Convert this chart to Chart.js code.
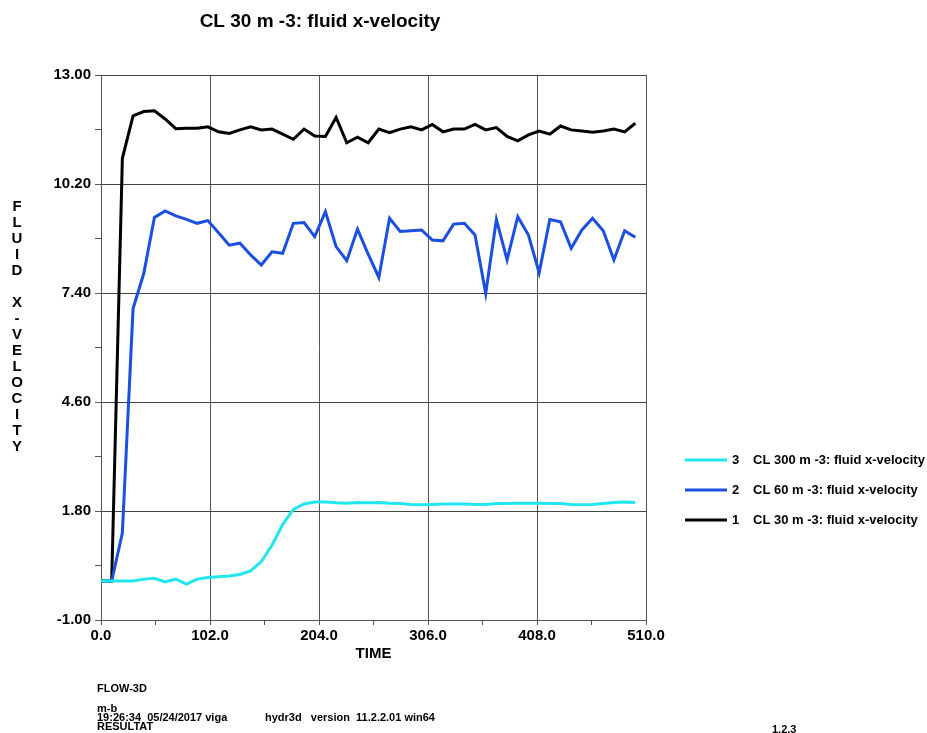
<!DOCTYPE html>
<html>
<head>
<meta charset="utf-8">
<script src="https://cdn.jsdelivr.net/npm/chart.js@4.4.0/dist/chart.umd.min.js"></script>
<style>
  html, body { margin: 0; padding: 0; background: #fff; }
  #wrap { width: 927px; height: 733px; }
</style>
</head>
<body>
<div id="wrap"><canvas id="chart" width="927" height="733"></canvas></div>
<script>
// time samples (x axis)
const times = [0, 10, 20, 30, 40, 50, 60, 70, 80, 90,
  100, 110, 120, 130, 140, 150, 160, 170, 180, 190,
  200, 210, 220, 230, 240, 250, 260, 270, 280, 290,
  300, 310, 320, 330, 340, 350, 360, 370, 380, 390,
  400, 410, 420, 430, 440, 450, 460, 470, 480, 490, 500];

// 1  CL 30 m -3
const cl30 = [0, 0, 10.86, 11.95, 12.06, 12.08, 11.87, 11.62, 11.63, 11.63,
  11.67, 11.54, 11.50, 11.59, 11.67, 11.59, 11.61, 11.48, 11.35, 11.61,
  11.43, 11.42, 11.91, 11.26, 11.40, 11.26, 11.61, 11.52, 11.61, 11.67,
  11.59, 11.73, 11.54, 11.61, 11.61, 11.73, 11.59, 11.65, 11.42, 11.31,
  11.46, 11.56, 11.48, 11.69, 11.59, 11.56, 11.53, 11.56, 11.61, 11.54, 11.76];

// 2  CL 60 m -3
const cl60 = [0, 0, 1.24, 7.0, 7.9, 9.34, 9.51, 9.38, 9.29, 9.19,
  9.26, 8.95, 8.63, 8.68, 8.38, 8.12, 8.46, 8.42, 9.19, 9.21,
  8.85, 9.49, 8.59, 8.23, 9.04, 8.4, 7.8, 9.32, 8.98, 9.0,
  9.02, 8.76, 8.74, 9.17, 9.19, 8.89, 7.39, 9.29, 8.25, 9.36,
  8.89, 7.92, 9.29, 9.23, 8.55, 9.02, 9.32, 9.0, 8.25, 9.0, 8.83];

// 3  CL 300 m -3
const cl300 = [0, 0, 0, 0, 0.05, 0.07, -0.02, 0.05, -0.08, 0.05,
  0.09, 0.11, 0.13, 0.17, 0.26, 0.5, 0.92, 1.45, 1.84, 1.98,
  2.03, 2.03, 2.01, 2.0, 2.02, 2.01, 2.02, 2.0, 1.99, 1.97,
  1.96, 1.97, 1.98, 1.98, 1.98, 1.97, 1.97, 1.99, 1.99, 2.0,
  2.0, 2.0, 1.99, 1.99, 1.97, 1.96, 1.97, 1.99, 2.02, 2.03, 2.02];

const seriesNames = ['CL 30 m -3: fluid x-velocity', 'CL 60 m -3: fluid x-velocity', 'CL 300 m -3: fluid x-velocity'];
const seriesColors = ['#000000', '#1a4fe0', '#22e6ee'];

const FONT = '"Liberation Sans", Arial, sans-serif';

// build {x, y} points from the arrays
function toPoints(values) {
  return values.map((v, i) => ({ x: times[i], y: v }));
}

// Texts around the plot: title, vertical axis label, legend, footer
const textPlugin = {
  id: 'texts',
  afterDraw(chart) {
    const ctx = chart.ctx;
    ctx.save();
    ctx.fillStyle = '#000';

    // title
    ctx.font = 'bold 19px ' + FONT;
    ctx.textAlign = 'center';
    ctx.textBaseline = 'middle';
    ctx.fillText('CL 30 m -3: fluid x-velocity', 320, 22);

    // stacked y axis title
    ctx.font = 'bold 15px ' + FONT;
    const letters = 'FLUID X-VELOCITY'.split('');
    letters.forEach((ch, i) => {
      if (ch !== ' ') ctx.fillText(ch, 17, 207 + i * 16);
    });

    // legend, last series on top
    ctx.font = 'bold 13px ' + FONT;
    ctx.textAlign = 'left';
    const sets = chart.data.datasets;
    for (let r = 0; r < sets.length; r++) {
      const idx = sets.length - 1 - r;
      const y = 460 + r * 30;
      ctx.strokeStyle = sets[idx].borderColor;
      ctx.lineWidth = 3;
      ctx.beginPath();
      ctx.moveTo(685, y);
      ctx.lineTo(727, y);
      ctx.stroke();
      ctx.fillText(String(idx + 1), 732, y);
      ctx.fillText(sets[idx].label, 753, y);
    }

    // footer
    ctx.font = 'bold 11px ' + FONT;
    ctx.textBaseline = 'alphabetic';
    ctx.fillText('FLOW-3D', 97, 692);
    ctx.fillText('m-b', 97, 712);
    ctx.fillText('19:26:34  05/24/2017 viga', 97, 721);
    ctx.fillText('hydr3d   version  11.2.2.01 win64', 265, 721);
    ctx.fillText('RESULTAT', 97, 730);
    ctx.fillText('1.2.3', 772, 733);
    ctx.restore();
  }
};

document.addEventListener('DOMContentLoaded', function() {
  const ctx = document.getElementById('chart').getContext('2d');

  const datasets = [cl30, cl60, cl300].map((vals, i) => ({
    label: seriesNames[i],
    data: toPoints(vals),
    borderColor: seriesColors[i],
    backgroundColor: seriesColors[i],
    borderWidth: 3,
    pointRadius: 0,
    tension: 0,
    fill: false,
    order: 3 - i
  }));

  new Chart(ctx, {
    type: 'line',
    data: { datasets: datasets },
    options: {
      responsive: false,
      animation: false,
      layout: { padding: { left: 0, top: 75, right: 281, bottom: 66 } },
      plugins: {
        legend: { display: false },
        title: { display: false },
        tooltip: { enabled: false }
      },
      scales: {
        x: {
          type: 'linear',
          min: 0,
          max: 510,
          afterFit: (scale) => { scale.height = 47; },
          ticks: {
            stepSize: 51,
            autoSkip: false,
            maxRotation: 0,
            padding: 2,
            color: '#000',
            font: { family: FONT, size: 15, weight: 'bold' },
            callback: (value, index) => index % 2 === 0 ? value.toFixed(1) : ''
          },
          grid: {
            color: (c) => c.index % 2 === 0 ? '#555' : 'rgba(0,0,0,0)',
            tickColor: '#555',
            tickLength: 5,
            lineWidth: 1
          },
          border: { color: '#555', width: 1 },
          title: {
            display: true,
            text: 'TIME',
            color: '#000',
            font: { family: FONT, size: 15, weight: 'bold' },
            padding: { top: 4, bottom: 4 }
          }
        },
        y: {
          min: -1,
          max: 13,
          afterFit: (scale) => { scale.width = 101; },
          ticks: {
            stepSize: 1.4,
            autoSkip: false,
            padding: 4,
            color: '#000',
            font: { family: FONT, size: 15, weight: 'bold' },
            callback: (value, index) => index % 2 === 0 ? value.toFixed(2) : ''
          },
          grid: {
            color: (c) => c.index % 2 === 0 ? '#444' : 'rgba(0,0,0,0)',
            tickColor: '#555',
            tickLength: 6,
            lineWidth: 1
          },
          border: { color: '#555', width: 1 }
        }
      }
    },
    plugins: [textPlugin]
  });
});
</script>
</body>
</html>
